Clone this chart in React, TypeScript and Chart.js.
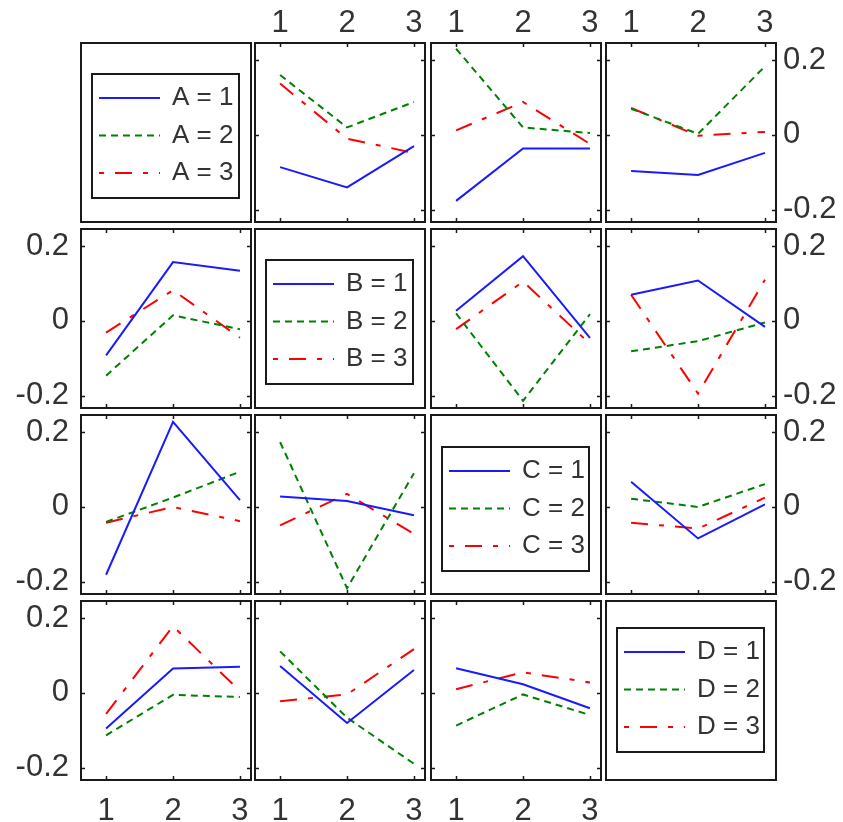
import React, { useEffect, useRef } from 'react';
import { Chart, registerables } from 'chart.js';
Chart.register(...registerables);

// ---------- data ----------
const LEVELS = [1, 2, 3];
const FACTORS = ['A', 'B', 'C', 'D'];
const Y_TICKS = [-0.2, 0, 0.2];

// each array: [level 1 line, level 2 line, level 3 line] of the row factor, x = column factor levels
const A_by_B = [[-0.086, -0.14, -0.03], [0.16, 0.02, 0.088], [0.137, -0.01, -0.048]];
const A_by_C = [[-0.176, -0.036, -0.036], [0.23, 0.02, 0.005], [0.012, 0.088, -0.024]];
const A_by_D = [[-0.096, -0.107, -0.048], [0.07, 0.003, 0.183], [0.072, -0.002, 0.008]];
const B_by_A = [[-0.092, 0.157, 0.134], [-0.146, 0.015, -0.022], [-0.031, 0.082, -0.045]];
const B_by_C = [[0.027, 0.173, -0.045], [0.02, -0.213, 0.018], [-0.022, 0.105, -0.061]];
const B_by_D = [[0.07, 0.108, -0.016], [-0.081, -0.054, -0.004], [0.07, -0.194, 0.11]];
const C_by_A = [[-0.181, 0.227, 0.018], [-0.04, 0.025, 0.094], [-0.042, 0.0, -0.038]];
const C_by_B = [[0.028, 0.016, -0.022], [0.173, -0.217, 0.09], [-0.049, 0.035, -0.072]];
const C_by_D = [[0.067, -0.084, 0.007], [0.022, 0.0, 0.061], [-0.042, -0.058, 0.025]];
const D_by_A = [[-0.095, 0.065, 0.07], [-0.113, -0.005, -0.011], [-0.056, 0.178, 0.005]];
const D_by_B = [[0.072, -0.08, 0.061], [0.111, -0.066, -0.189], [-0.022, -0.004, 0.117]];
const D_by_C = [[0.066, 0.023, -0.041], [-0.087, -0.004, -0.059], [0.01, 0.055, 0.028]];

const PANEL_DATA: (number[][] | null)[][] = [
  [null, A_by_B, A_by_C, A_by_D],
  [B_by_A, null, B_by_C, B_by_D],
  [C_by_A, C_by_B, null, C_by_D],
  [D_by_A, D_by_B, D_by_C, null],
];

// ---------- style / layout ----------
const COLORS = ['#1a1aff', '#008000', '#ff0000'];
const DASHES = [[], [7, 5], [17, 11, 5, 11]];
const FONT = '"Liberation Sans", Arial, sans-serif';
const TEXT = '#333333';
const FRAME = '#1a1a1a';
const COL_X = [80, 254, 430, 605];
const ROW_Y = [42, 228, 414, 600];
const PW = 172;
const PH = 181;
const LEGEND_TOP = [31, 31, 32, 27];

function Panel({ r, c }: { r: number; c: number }) {
  const ref = useRef<HTMLCanvasElement>(null);
  const data = PANEL_DATA[r][c];
  const isLegend = r === c;
  const T = r === 0 && c > 0 ? 42 : 0;
  const B = r === 3 && c < 3 ? 40 : 0;
  const L = c === 0 && r > 0 ? 75 : 0;
  const R = c === 3 && r < 3 ? 60 : 0;
  const w = PW + L + R;
  const h = PH + T + B;

  useEffect(() => {
    const datasets = LEVELS.map((lv, k) => ({
      label: `${FACTORS[r]} = ${lv}`,
      data: data ? LEVELS.map((x, i) => ({ x, y: data[k][i] })) : [],
      borderColor: COLORS[k],
      backgroundColor: COLORS[k],
      borderDash: DASHES[k],
      borderWidth: 2,
      pointRadius: 0,
      fill: false,
      tension: 0,
    }));

    const framePlugin = {
      id: 'frame',
      afterDraw(chart: any) {
        const { ctx, chartArea: a, scales } = chart;
        ctx.save();
        ctx.strokeStyle = FRAME;
        ctx.lineWidth = 2;
        ctx.setLineDash([]);
        ctx.strokeRect(a.left + 1, a.top + 1, a.right - a.left - 2, a.bottom - a.top - 2);
        if (!isLegend) {
          ctx.lineWidth = 1.5;
          LEVELS.forEach((v) => {
            const px = Math.round(scales.x.getPixelForValue(v)) + 0.5;
            ctx.beginPath();
            ctx.moveTo(px, a.top + 2);
            ctx.lineTo(px, a.top + 5);
            ctx.moveTo(px, a.bottom - 2);
            ctx.lineTo(px, a.bottom - 5);
            ctx.stroke();
          });
          Y_TICKS.forEach((v) => {
            const py = Math.round(scales.y.getPixelForValue(v)) + 0.5;
            ctx.beginPath();
            ctx.moveTo(a.left + 2, py);
            ctx.lineTo(a.left + 5, py);
            ctx.moveTo(a.right - 2, py);
            ctx.lineTo(a.right - 5, py);
            ctx.stroke();
          });
        } else {
          const bx = a.left + 11;
          const by = a.top + LEGEND_TOP[r];
          const bw = 149;
          const bh = 126;
          ctx.lineWidth = 2;
          ctx.strokeRect(bx + 1, by + 1, bw - 2, bh - 2);
          chart.data.datasets.forEach((ds: any, k: number) => {
            const y = by + 25 + k * 37.5;
            ctx.save();
            ctx.strokeStyle = ds.borderColor;
            ctx.lineWidth = 2;
            ctx.setLineDash(ds.borderDash);
            ctx.lineDashOffset = k === 2 ? 28 : 0;
            ctx.beginPath();
            ctx.moveTo(bx + 8, y);
            ctx.lineTo(bx + 69, y);
            ctx.stroke();
            ctx.restore();
            ctx.fillStyle = TEXT;
            ctx.font = `26px ${FONT}`;
            ctx.textBaseline = 'middle';
            ctx.textAlign = 'left';
            ctx.fillText(ds.label, bx + 81, y);
          });
        }
        ctx.restore();
      },
    };

    const chart = new Chart(ref.current as HTMLCanvasElement, {
      type: 'line',
      data: { datasets },
      options: {
        animation: false,
        responsive: false,
        maintainAspectRatio: false,
        devicePixelRatio: 1,
        events: [],
        layout: { padding: 0 },
        plugins: { legend: { display: false }, tooltip: { enabled: false }, title: { display: false } },
        scales: {
          x: {
            type: 'linear',
            min: 0.61,
            max: 3.18,
            display: T > 0 || B > 0,
            position: T > 0 ? 'top' : 'bottom',
            afterBuildTicks: (s: any) => {
              s.ticks = LEVELS.map((v) => ({ value: v }));
            },
            afterFit: (s: any) => {
              s.height = T || B;
              s.paddingLeft = 0;
              s.paddingRight = 0;
            },
            grid: { display: false, drawTicks: false },
            border: { display: false },
            ticks: {
              font: { family: FONT, size: 31 },
              color: TEXT,
              padding: T > 0 ? 0 : 12,
              maxRotation: 0,
              minRotation: 0,
              autoSkip: false,
              callback: (v: any) => String(v),
            },
          },
          y: {
            type: 'linear',
            min: -0.235,
            max: 0.248,
            display: L > 0 || R > 0,
            position: L > 0 ? 'left' : 'right',
            afterBuildTicks: (s: any) => {
              s.ticks = Y_TICKS.map((v) => ({ value: v }));
            },
            afterFit: (s: any) => {
              s.width = L || R;
              s.paddingTop = 0;
              s.paddingBottom = 0;
            },
            grid: { display: false, drawTicks: false },
            border: { display: false },
            ticks: {
              font: { family: FONT, size: 31 },
              color: TEXT,
              padding: L > 0 ? 11 : 6,
              autoSkip: false,
              callback: (v: any) => String(Math.round(Number(v) * 10) / 10),
            },
          },
        },
      } as any,
      plugins: [framePlugin],
    });
    return () => chart.destroy();
  }, []);

  return (
    <canvas
      ref={ref}
      width={w}
      height={h}
      style={{ position: 'absolute', left: COL_X[c] - L, top: ROW_Y[r] - T, width: w, height: h }}
    />
  );
}

export default function App() {
  const cells: JSX.Element[] = [];
  for (let r = 0; r < 4; r++) {
    for (let c = 0; c < 4; c++) {
      cells.push(<Panel key={`${r}-${c}`} r={r} c={c} />);
    }
  }
  return (
    <div style={{ position: 'fixed', left: 0, top: 0, width: 843, height: 822, overflow: 'hidden', background: '#fff' }}>
      {cells}
    </div>
  );
}
